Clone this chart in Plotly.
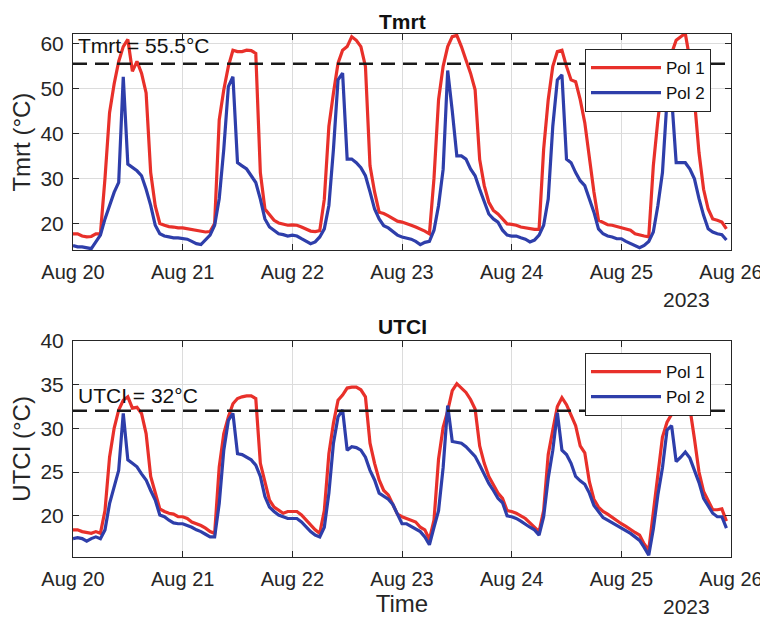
import pandas as pd
import plotly.graph_objects as go
from plotly.subplots import make_subplots

# hourly timestamps, Aug 20 00:00 -> Aug 25 23:00 2023
times = pd.date_range("2023-08-20 00:00", periods=144, freq="h")

tmrt_pol1 = [
    17.7, 17.7, 17.2, 17.0, 17.1, 17.7, 17.7, 30.0, 44.6, 51.0, 56.0, 59.3,
    60.9, 53.8, 56.0, 53.4, 49.0, 31.3, 23.9, 20.0, 19.6, 19.3, 19.2, 19.0,
    19.0, 18.8, 18.6, 18.5, 18.3, 18.1, 18.2, 20.0, 43.0, 49.7, 54.9, 58.5,
    58.2, 58.2, 58.5, 58.4, 57.8, 31.3, 23.2, 21.8, 20.7, 20.1, 19.9, 19.6,
    19.7, 19.6, 19.2, 18.8, 18.3, 18.2, 18.4, 25.4, 41.6, 49.0, 55.6, 58.5,
    59.3, 61.5, 60.7, 59.3, 54.9, 32.8, 27.0, 22.5, 22.2, 21.7, 21.0, 20.5,
    20.3, 20.0, 19.6, 19.2, 18.8, 18.3, 17.7, 30.0, 47.5, 54.9, 59.3, 61.5,
    61.8, 59.3, 56.3, 53.4, 49.7, 34.2, 28.4, 24.7, 22.9, 22.1, 21.0, 19.9,
    19.8, 19.6, 19.2, 19.0, 18.8, 18.7, 18.7, 36.5, 47.5, 54.9, 58.2, 58.5,
    54.9, 51.9, 51.5, 47.5, 42.4, 34.2, 27.0, 20.7, 20.1, 19.7, 19.6, 19.3,
    19.0, 18.8, 18.5, 17.7, 17.4, 17.2, 17.0, 32.8, 43.0, 51.0, 54.9, 57.8,
    60.7, 61.5, 62.2, 56.3, 47.5, 35.7, 27.6, 23.2, 21.0, 20.7, 20.3, 18.8,
]

tmrt_pol2 = [
    15.1, 14.8, 14.8, 14.6, 14.4, 15.9, 17.4, 21.0, 24.0, 26.9, 29.1, 52.6,
    33.2, 32.4, 31.7, 30.6, 27.6, 24.0, 19.6, 17.7, 17.2, 17.0, 16.8, 16.8,
    16.6, 16.5, 16.0, 15.5, 15.3, 16.3, 17.4, 19.6, 25.5, 36.5, 50.4, 52.6,
    33.5, 32.8, 32.1, 30.6, 29.1, 25.4, 21.0, 19.2, 18.5, 17.7, 17.5, 17.2,
    17.4, 17.2, 16.6, 16.0, 15.5, 15.9, 17.0, 18.8, 24.0, 36.5, 51.9, 53.4,
    34.3, 34.3, 33.5, 32.4, 30.6, 27.0, 23.2, 21.0, 19.5, 19.0, 18.2, 17.4,
    17.0, 16.8, 16.5, 16.0, 15.3, 15.8, 16.0, 18.5, 24.0, 32.0, 54.0, 45.0,
    35.0, 35.0, 34.3, 32.1, 30.6, 27.6, 24.7, 22.1, 21.0, 20.3, 18.5, 17.4,
    17.2, 17.2, 16.8, 16.5, 15.9, 16.3, 17.4, 19.6, 25.4, 41.6, 51.9, 53.0,
    34.3, 33.5, 31.3, 29.5, 28.4, 25.4, 22.5, 18.8, 17.7, 17.2, 17.0, 16.6,
    16.6, 16.0, 15.5, 15.1, 14.6, 15.1, 16.0, 18.1, 24.0, 31.3, 47.5, 48.2,
    33.5, 33.5, 33.5, 32.1, 29.9, 25.5, 21.8, 18.8, 18.1, 17.7, 17.5, 16.3,
]

utci_pol1 = [
    18.4, 18.4, 18.2, 18.1, 18.0, 18.2, 18.0, 20.6, 26.7, 30.0, 32.1, 33.2,
    33.6, 32.3, 32.4, 31.7, 29.4, 24.5, 22.6, 20.8, 20.5, 20.3, 20.2, 19.9,
    19.9, 19.7, 19.3, 19.1, 18.9, 18.6, 18.2, 18.0, 25.6, 29.4, 31.3, 32.8,
    33.4, 33.6, 33.7, 33.7, 33.4, 26.0, 23.7, 21.8, 21.0, 20.6, 20.3, 20.5,
    20.5, 20.5, 20.1, 19.5, 18.9, 18.4, 18.0, 20.6, 27.1, 30.6, 33.2, 33.8,
    34.6, 34.7, 34.7, 34.4, 33.6, 28.3, 26.0, 24.1, 22.9, 22.4, 21.3, 20.2,
    19.9, 19.7, 19.5, 19.3, 18.7, 18.4, 17.3, 19.5, 26.5, 30.1, 32.0, 34.3,
    35.1, 34.6, 34.1, 33.3, 32.2, 28.0, 26.0, 24.5, 23.6, 22.6, 22.0, 20.6,
    20.5, 20.3, 20.0, 19.7, 19.2, 18.7, 18.2, 20.6, 27.0, 29.8, 32.5, 33.5,
    32.7, 31.5, 30.3, 28.0, 27.2, 23.9, 21.9, 21.0, 20.5, 20.2, 19.8, 19.5,
    19.1, 18.8, 18.4, 18.1, 17.8, 16.8, 16.1, 20.5, 25.2, 29.0, 30.7, 31.6,
    33.0, 33.8, 34.0, 32.3, 28.8, 25.0, 22.8, 21.7, 20.7, 20.7, 20.8, 19.4,
]

utci_pol2 = [
    17.4, 17.5, 17.4, 17.1, 17.4, 17.6, 17.4, 18.4, 21.4, 23.3, 25.2, 31.7,
    26.4, 26.0, 25.6, 24.8, 24.1, 22.9, 21.8, 20.1, 19.9, 19.5, 19.2, 19.1,
    19.1, 18.9, 18.7, 18.4, 18.2, 17.9, 17.6, 17.6, 21.4, 27.5, 30.9, 31.7,
    27.1, 27.0, 26.7, 26.4, 25.8, 24.5, 22.2, 21.0, 20.5, 20.1, 19.9, 19.7,
    19.7, 19.7, 19.3, 18.7, 18.2, 17.8, 17.6, 18.7, 22.6, 28.3, 31.3, 32.1,
    27.5, 27.9, 27.8, 27.5, 26.7, 25.2, 24.1, 22.6, 22.2, 21.9, 21.3, 20.2,
    19.1, 19.1, 18.8, 18.5, 18.2, 17.6, 16.7, 18.7, 20.6, 25.5, 32.6, 28.5,
    28.4, 28.3, 27.9, 27.4, 26.8, 25.8, 24.8, 23.7, 22.9, 22.0, 21.5, 20.0,
    19.9, 19.7, 19.4, 19.0, 18.7, 18.4, 17.8, 19.9, 24.3, 27.5, 31.8, 27.5,
    27.0, 26.0, 24.5, 24.0, 23.6, 22.6, 21.2, 20.5, 19.8, 19.5, 19.2, 19.0,
    18.6, 18.3, 18.0, 17.6, 17.2, 16.4, 15.5, 18.5, 22.4, 25.5, 29.8, 30.3,
    26.2, 26.7, 27.3, 26.6, 25.3, 23.8, 22.0, 21.2, 20.3, 19.9, 19.9, 18.6,
]

tick_dates = pd.date_range("2023-08-20", "2023-08-26", freq="D")
tick_labels = ["Aug 20", "Aug 21", "Aug 22", "Aug 23", "Aug 24", "Aug 25", "Aug 26"]
series_names = ["Pol 1", "Pol 2"]
tmrt_threshold = 55.5
utci_threshold = 32

RED = "#E8302A"
BLUE = "#2E3EAA"
FONT = "Liberation Sans, Arial, sans-serif"
TXT = "#262626"

fig = make_subplots(rows=2, cols=1, vertical_spacing=0.1732)

fig.add_trace(go.Scatter(x=times, y=tmrt_pol1, name=series_names[0], mode="lines",
                         line=dict(color=RED, width=3.2), legend="legend"), row=1, col=1)
fig.add_trace(go.Scatter(x=times, y=tmrt_pol2, name=series_names[1], mode="lines",
                         line=dict(color=BLUE, width=3.2), legend="legend"), row=1, col=1)
fig.add_trace(go.Scatter(x=times, y=utci_pol1, name=series_names[0], mode="lines",
                         line=dict(color=RED, width=3.2), legend="legend2"), row=2, col=1)
fig.add_trace(go.Scatter(x=times, y=utci_pol2, name=series_names[1], mode="lines",
                         line=dict(color=BLUE, width=3.2), legend="legend2"), row=2, col=1)

for r, thr in ((1, tmrt_threshold), (2, utci_threshold)):
    fig.add_hline(y=thr, line=dict(color="#1a1a1a", width=2.5, dash="14px,8px"), row=r, col=1)

axis_common = dict(
    showline=True, linecolor=TXT, linewidth=1, mirror="ticks",
    ticks="inside", ticklen=6, tickcolor=TXT, automargin=False,
    showgrid=True, gridcolor="#dcdcdc", gridwidth=1, zeroline=False,
    tickfont=dict(family=FONT, size=21, color=TXT),
)

for r in (1, 2):
    fig.update_xaxes(range=[tick_dates[0], tick_dates[-1]], tickvals=tick_dates,
                     ticktext=tick_labels, ticklabelstandoff=4, row=r, col=1, **axis_common)
    fig.update_xaxes(tickfont=dict(size=20), row=r, col=1)

fig.update_yaxes(range=[14.05, 62.1], tickvals=[20, 30, 40, 50, 60], row=1, col=1,
                 ticklabelstandoff=4,
                 title=dict(text="Tmrt (°C)", font=dict(family=FONT, size=24, color=TXT), standoff=6),
                 **axis_common)
fig.update_yaxes(range=[15.3, 40], tickvals=[20, 25, 30, 35, 40], row=2, col=1,
                 ticklabelstandoff=4,
                 title=dict(text="UTCI (°C)", font=dict(family=FONT, size=24, color=TXT), standoff=6),
                 **axis_common)
fig.update_xaxes(title=dict(text="Time", font=dict(family=FONT, size=24, color=TXT), standoff=6),
                 row=2, col=1)

legend_common = dict(
    bgcolor="white", bordercolor=TXT, borderwidth=1,
    font=dict(family=FONT, size=17, color="#111111"),
    xanchor="right", yanchor="top", itemwidth=70, tracegroupgap=0,
)
fig.update_layout(
    legend=dict(x=0.9696, y=0.9713, **legend_common),
    legend2=dict(x=0.9696, y=0.390, **legend_common),
)

annotations = [
    dict(text="<b>Tmrt</b>", x=0.5, y=1.0, xref="paper", yref="paper", yanchor="bottom",
         yshift=-1, showarrow=False, font=dict(family=FONT, size=21, color="#111111")),
    dict(text="<b>UTCI</b>", x=0.5, y=0.4134, xref="paper", yref="paper", yanchor="bottom",
         yshift=1, showarrow=False, font=dict(family=FONT, size=21, color="#111111")),
    dict(text=f"Tmrt = {tmrt_threshold}°C", x=0.0, y=1.0, xref="paper", yref="paper",
         xanchor="left", yanchor="top", xshift=3, yshift=2, showarrow=False,
         font=dict(family=FONT, size=21, color="#111111")),
    dict(text=f"UTCI = {utci_threshold}°C", x=0.0, y=utci_threshold, xref="paper", yref="y2",
         xanchor="left", yanchor="bottom", xshift=3, yshift=2, showarrow=False,
         font=dict(family=FONT, size=21, color="#111111")),
    dict(text="2023", x=0.932, y=0.5866, xref="paper", yref="paper",
         xanchor="center", yanchor="top", yshift=-36, showarrow=False,
         font=dict(family=FONT, size=21, color=TXT)),
    dict(text="2023", x=0.932, y=0.0, xref="paper", yref="paper",
         xanchor="center", yanchor="top", yshift=-36, showarrow=False,
         font=dict(family=FONT, size=21, color=TXT)),
]
# the page body adds an 8px offset, so the figure is 8px smaller than the window
fig.update_layout(
    annotations=annotations,
    width=760, height=613,
    margin=dict(l=65, r=37, t=26, b=64),
    paper_bgcolor="white", plot_bgcolor="white",
    showlegend=True,
)

fig.write_html("out.html")
